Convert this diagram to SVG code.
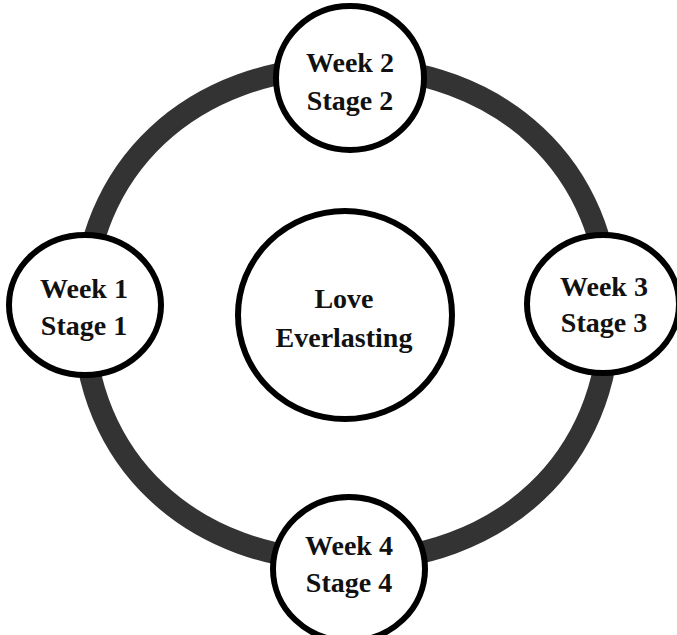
<svg xmlns="http://www.w3.org/2000/svg" width="677" height="635" viewBox="0 0 677 635">
<style>
.node{fill:#fff;stroke:#000;stroke-width:6}
.ring{fill:none;stroke:#333;stroke-width:22}
text{font-family:"Liberation Serif","Times New Roman",serif;font-weight:bold;font-size:28px;fill:#111;text-anchor:middle}
</style>
<rect width="677" height="635" fill="#fff"/>
<g id="connectors">
<path class="ring" d="M83.5,314 C83.5,168.5 191.6,67 346.5,67 C501.4,67 609.5,168.5 609.5,314 C609.5,459.5 501.4,561 346.5,561 C191.6,561 83.5,459.5 83.5,314 Z"/>
</g>
<g id="center">
<ellipse class="node" cx="345" cy="315" rx="107" ry="104"/>
<text x="344" y="308">Love</text>
<text x="344" y="347">Everlasting</text>
</g>
<g id="week2">
<ellipse class="node" cx="350" cy="78" rx="74" ry="72"/>
<text x="350" y="72">Week 2</text>
<text x="350" y="110">Stage 2</text>
</g>
<g id="week1">
<ellipse class="node" cx="85" cy="305" rx="76" ry="70"/>
<text x="84" y="298">Week 1</text>
<text x="84" y="335">Stage 1</text>
</g>
<g id="week3">
<ellipse class="node" cx="603" cy="304" rx="76" ry="69"/>
<text x="604" y="296">Week 3</text>
<text x="604" y="332">Stage 3</text>
</g>
<g id="week4">
<ellipse class="node" cx="349" cy="569" rx="76" ry="72"/>
<text x="349" y="555">Week 4</text>
<text x="349" y="592">Stage 4</text>
</g>
</svg>
